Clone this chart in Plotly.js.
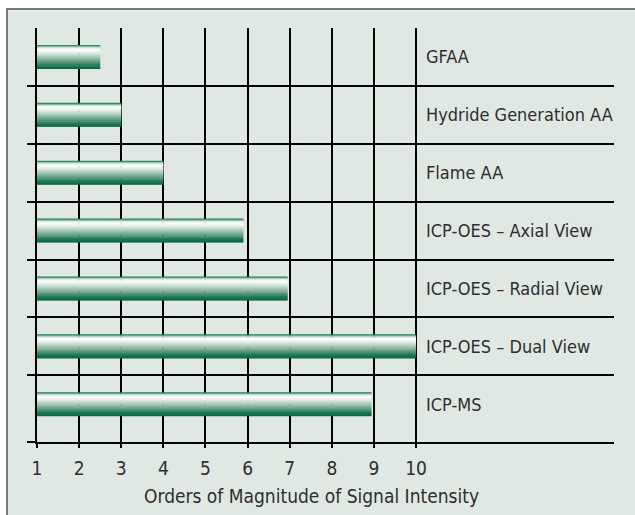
<!DOCTYPE html>
<html>
<head>
<meta charset="utf-8">
<script src="https://cdn.plot.ly/plotly-3.0.1.min.js"></script>
<style>
  html, body { margin: 0; padding: 0; background: #ffffff; width: 635px; height: 515px; overflow: hidden; }
  #frame { position: absolute; left: 6px; top: 8px; width: 629px; height: 507px;
           border-top: 2px solid #777777; border-left: 2px solid #777777; box-sizing: border-box; background: #e0e8e3; }
  #chart { position: absolute; left: 0; top: 0; width: 627px; height: 505px; }
</style>
</head>
<body>
<div id="frame"><div id="chart"></div></div>
<script>
// ---- data ----
const categories = [
  "GFAA",
  "Hydride Generation AA",
  "Flame AA",
  "ICP-OES – Axial View",
  "ICP-OES – Radial View",
  "ICP-OES – Dual View",
  "ICP-MS"
];
const magnitudes = [2.5, 3, 4, 5.9, 6.95, 10, 8.94];
const xTickVals = [1, 2, 3, 4, 5, 6, 7, 8, 9, 10];
const xTitle = "Orders of Magnitude of Signal Intensity";
const baseValue = 1;

// ---- styling ----
const FONT = "'Liberation Sans Narrow', 'DejaVu Sans Condensed', 'Noto Sans', sans-serif";
const TEXT = "#2e2e2e";
const barWidth = 0.415;
// vertical gradient stops (top -> bottom)
const stops = [
  [0.00, [0, 107, 69]],
  [0.04, [70, 148, 112]],
  [0.10, [200, 224, 211]],
  [0.18, [255, 255, 255]],
  [0.30, [232, 241, 236]],
  [0.50, [168, 200, 183]],
  [0.70, [95, 155, 125]],
  [0.86, [30, 120, 84]],
  [1.00, [0, 105, 67]]
];
function colorAt(t) {
  for (let i = 1; i < stops.length; i++) {
    if (t <= stops[i][0]) {
      const a = stops[i - 1], b = stops[i];
      const f = (t - a[0]) / (b[0] - a[0]);
      const c = a[1].map((v, j) => Math.round(v + (b[1][j] - v) * f));
      return `rgb(${c[0]},${c[1]},${c[2]})`;
    }
  }
  const c = stops[stops.length - 1][1];
  return `rgb(${c[0]},${c[1]},${c[2]})`;
}

const yIdx = categories.map((c, i) => i);
const N = 26;
const traces = [];
for (let k = 0; k < N; k++) {
  const step = barWidth / N;
  traces.push({
    type: "bar",
    orientation: "h",
    y: yIdx,
    x: magnitudes.map(v => v - baseValue),
    base: baseValue,
    offset: -barWidth / 2 + k * step,
    width: k < N - 1 ? step * 1.6 : step,
    marker: { color: colorAt((k + 0.5) / N), line: { width: 0 } },
    hoverinfo: "skip",
    showlegend: false
  });
}

const yTickVals = categories.slice(1).map((c, i) => i + 0.5);
const yBottom = categories.length - 0.5 + 0.152;
yTickVals.push(yBottom);

const annotations = categories.map((c, i) => ({
  x: 10.2, y: i, xref: "x", yref: "y",
  text: c, showarrow: false, xanchor: "left", yanchor: "middle",
  font: { family: FONT, size: 18, color: TEXT }
}));
annotations.push({
  x: 0.4757, y: -0.130, xref: "paper", yref: "paper",
  text: xTitle, showarrow: false, xanchor: "center", yanchor: "middle",
  font: { family: FONT, size: 19, color: TEXT }
});

const layout = {
  width: 627, height: 505,
  margin: { l: 29, r: 21, t: 18, b: 73, pad: 0 },
  paper_bgcolor: "rgba(0,0,0,0)",
  plot_bgcolor: "rgba(0,0,0,0)",
  barmode: "overlay",
  font: { family: FONT, size: 19, color: TEXT },
  xaxis: {
    range: [baseValue, 14.7],
    tickvals: xTickVals,
    ticktext: xTickVals.map(String),
    showgrid: true, gridcolor: "#000000", gridwidth: 2,
    zeroline: false,
    showline: true, linecolor: "#000000", linewidth: 2,
    ticks: "outside", ticklen: 4, tickwidth: 2, tickcolor: "#000000",
    ticklabelstandoff: 4,
    tickfont: { family: FONT, size: 19, color: TEXT },
    fixedrange: true
  },
  yaxis: {
    range: [yBottom, -0.5],
    tickvals: yTickVals,
    showticklabels: false,
    showgrid: true, gridcolor: "#000000", gridwidth: 2,
    zeroline: false,
    showline: true, linecolor: "#000000", linewidth: 2,
    ticks: "outside", ticklen: 8, tickwidth: 2, tickcolor: "#000000",
    fixedrange: true
  },
  annotations: annotations
};

Plotly.newPlot("chart", traces, layout, { staticPlot: true, displayModeBar: false });
</script>
</body>
</html>
